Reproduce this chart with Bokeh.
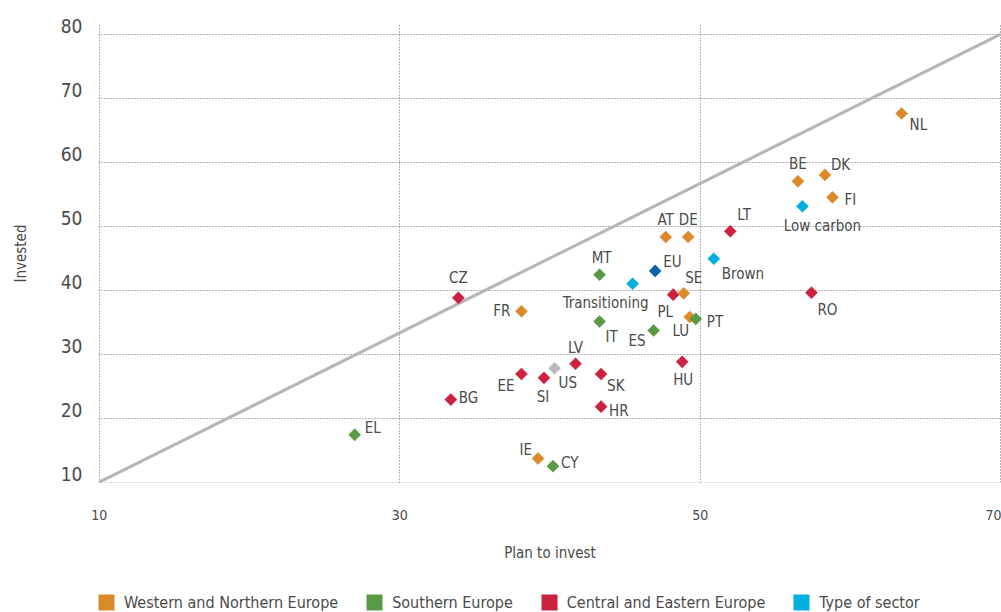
from bokeh.plotting import figure
from bokeh.models import Range1d, ColumnDataSource, Legend, LegendItem, FixedTicker, LinearAxis
from bokeh.layouts import column
from bokeh.core.properties import value
from bokeh.embed import file_html
from bokeh.resources import INLINE

# ---- data ----
west_names = ["NL", "BE", "DK", "FI", "AT", "DE", "SE", "FR", "LU", "IE"]
west_x = [63.4, 56.5, 58.3, 58.8, 47.7, 49.2, 48.9, 38.1, 49.3, 39.2]
west_y = [67.6, 57.0, 58.0, 54.5, 48.3, 48.3, 39.5, 36.7, 35.8, 13.7]

south_names = ["MT", "IT", "ES", "PT", "CY", "EL"]
south_x = [43.3, 43.3, 46.9, 49.7, 40.2, 27.0]
south_y = [42.4, 35.1, 33.7, 35.5, 12.5, 17.4]

cee_names = ["LT", "PL", "RO", "CZ", "HU", "LV", "SI", "EE", "SK", "BG", "HR"]
cee_x = [52.0, 48.2, 57.4, 33.9, 48.8, 41.7, 39.6, 38.1, 43.4, 33.4, 43.4]
cee_y = [49.2, 39.3, 39.6, 38.8, 28.8, 28.5, 26.3, 26.9, 26.9, 22.9, 21.8]

sector_names = ["Low carbon", "Brown", "Transitioning"]
sector_x = [56.8, 50.9, 45.5]
sector_y = [53.1, 44.9, 41.0]

eu_names = ["EU"]
eu_x = [47.0]
eu_y = [43.0]

us_names = ["US"]
us_x = [40.3]
us_y = [27.8]

diag_x = [10, 70]
diag_y = [10, 80]

x_ticks = [10, 30, 50, 70]
y_ticks = [10, 20, 30, 40, 50, 60, 70, 80]

legend_labels = ["Western and Northern Europe", "Southern Europe",
                 "Central and Eastern Europe", "Type of sector"]

# ---- styles ----
C_WEST = "#DA8A2B"
C_SOUTH = "#5B9A44"
C_CEE = "#CC2240"
C_SECTOR = "#00AFDB"
C_EU = "#0862AC"
C_US = "#B9B9BE"
TXT = "#4A4A4A"
FONT = "DejaVu Sans Condensed"
Y_LABEL_SHIFT = 1.25   # y tick labels sit just above their grid lines (in data units)
NAN = float("nan")

# label placement: name -> (align, dx, dy) in screen pixels
label_pos = {
    "NL": ("left", 8, 12), "BE": ("center", 0, -17), "DK": ("left", 6, -10),
    "FI": ("left", 12, 3), "Low carbon": ("center", 20, 20), "LT": ("left", 7, -16),
    "AT": ("center", 0, -17), "DE": ("center", 0, -17), "Brown": ("left", 8, 15),
    "EU": ("left", 8, -9), "MT": ("center", 2, -17), "Transitioning": ("center", -27, 19),
    "SE": ("center", 10, -15), "PL": ("center", -8, 17), "RO": ("center", 16, 17),
    "CZ": ("center", 0, -20), "FR": ("right", -11, 0), "IT": ("left", 6, 15),
    "ES": ("right", -8, 11), "LU": ("center", -9, 14), "PT": ("left", 11, 3),
    "HU": ("center", 1, 18), "LV": ("center", 0, -16), "US": ("left", 4, 15),
    "SI": ("center", -1, 19), "EE": ("right", -7, 12), "SK": ("left", 6, 12),
    "BG": ("left", 8, -2), "HR": ("left", 8, 4), "IE": ("right", -6, -8),
    "CY": ("left", 8, -3), "EL": ("left", 10, -7),
}

Y0, Y1 = 9.95, 81.5
p = figure(width=1001, height=586, output_backend="svg", toolbar_location=None,
           x_range=Range1d(9.95, 70.05), y_range=Range1d(Y0, Y1), y_axis_location=None,
           min_border_left=98, min_border_right=0, min_border_top=24, min_border_bottom=104)
p.outline_line_color = None
p.background_fill_color = "white"
p.border_fill_color = "white"

# shifted range for the y tick labels only
p.extra_y_ranges = {"lab": Range1d(Y0 - Y_LABEL_SHIFT, Y1 - Y_LABEL_SHIFT)}
yax = LinearAxis(y_range_name="lab", ticker=FixedTicker(ticks=y_ticks))
p.add_layout(yax, "left")

# grids
for g in (p.xgrid, p.ygrid):
    g.grid_line_color = "#6A6A6A"
    g.grid_line_dash = "1 2"
    g.grid_line_width = 1
p.xaxis.ticker = FixedTicker(ticks=x_ticks)
p.xgrid.ticker = FixedTicker(ticks=x_ticks)
p.ygrid.ticker = FixedTicker(ticks=y_ticks)

for ax in (p.xaxis[0], yax):
    ax.axis_line_color = None
    ax.major_tick_line_color = None
    ax.minor_tick_line_color = None
    ax.major_label_text_color = TXT
    ax.major_label_text_font = FONT
    ax.axis_label_text_color = TXT
    ax.axis_label_text_font = FONT
    ax.axis_label_text_font_style = "normal"
    ax.axis_label_text_font_size = "15px"

p.xaxis.axis_label = "Plan to invest"
yax.axis_label = "Invested"
p.xaxis.major_label_text_font_size = "14px"
yax.major_label_text_font_size = "19px"
p.xaxis.major_label_standoff = 21
yax.major_label_standoff = 10
p.xaxis.axis_label_standoff = 21
yax.axis_label_standoff = 28

# diagonal
p.line(diag_x, diag_y, line_color="#B5B5BA", line_width=3)

groups = [
    (cee_names, cee_x, cee_y, C_CEE),
    (west_names, west_x, west_y, C_WEST),
    (south_names, south_x, south_y, C_SOUTH),
    (sector_names, sector_x, sector_y, C_SECTOR),
    (eu_names, eu_x, eu_y, C_EU),
    (us_names, us_x, us_y, C_US),
]

lab = {"x": [], "y": [], "t": [], "a": [], "dx": [], "dy": []}
for names, xs, ys, col in groups:
    p.scatter(xs, ys, marker="square", size=8.6, angle=0.785398,
              fill_color=col, line_color=col, line_width=0.5)
    for n, x, y in zip(names, xs, ys):
        a, dx, dy = label_pos[n]
        lab["x"].append(x); lab["y"].append(y); lab["t"].append(n)
        lab["a"].append(a); lab["dx"].append(dx); lab["dy"].append(dy)

src = ColumnDataSource(lab)
p.text(x="x", y="y", text="t", source=src, text_align="a", x_offset="dx", y_offset="dy",
       text_baseline="middle", text_font=value(FONT), text_font_size="15px",
       text_color=TXT)

# ---- legend strip below the chart ----
lg = figure(width=1001, height=26, output_backend="svg", toolbar_location=None,
            x_range=Range1d(0, 1), y_range=Range1d(0, 1), x_axis_location=None,
            y_axis_location=None, min_border_left=98, min_border_right=0,
            min_border_top=0, min_border_bottom=0)
lg.outline_line_color = None
lg.xgrid.visible = False
lg.ygrid.visible = False

items = []
for lbl, col in zip(legend_labels, [C_WEST, C_SOUTH, C_CEE, C_SECTOR]):
    r = lg.quad(left=[NAN], right=[NAN], top=[NAN], bottom=[NAN],
                fill_color=col, line_color=None)
    items.append(LegendItem(label=lbl, renderers=[r]))

legend = Legend(items=items, orientation="horizontal", location=(-2, 0),
                glyph_width=20, glyph_height=20, label_standoff=8, spacing=26,
                padding=0, margin=0, border_line_color=None, background_fill_alpha=0,
                label_text_font=FONT, label_text_font_size="16px", label_text_color=TXT,
                label_height=20)
lg.add_layout(legend, "center")

layout = column(p, lg, spacing=0)
open("out.html", "w").write(file_html(layout, INLINE))
